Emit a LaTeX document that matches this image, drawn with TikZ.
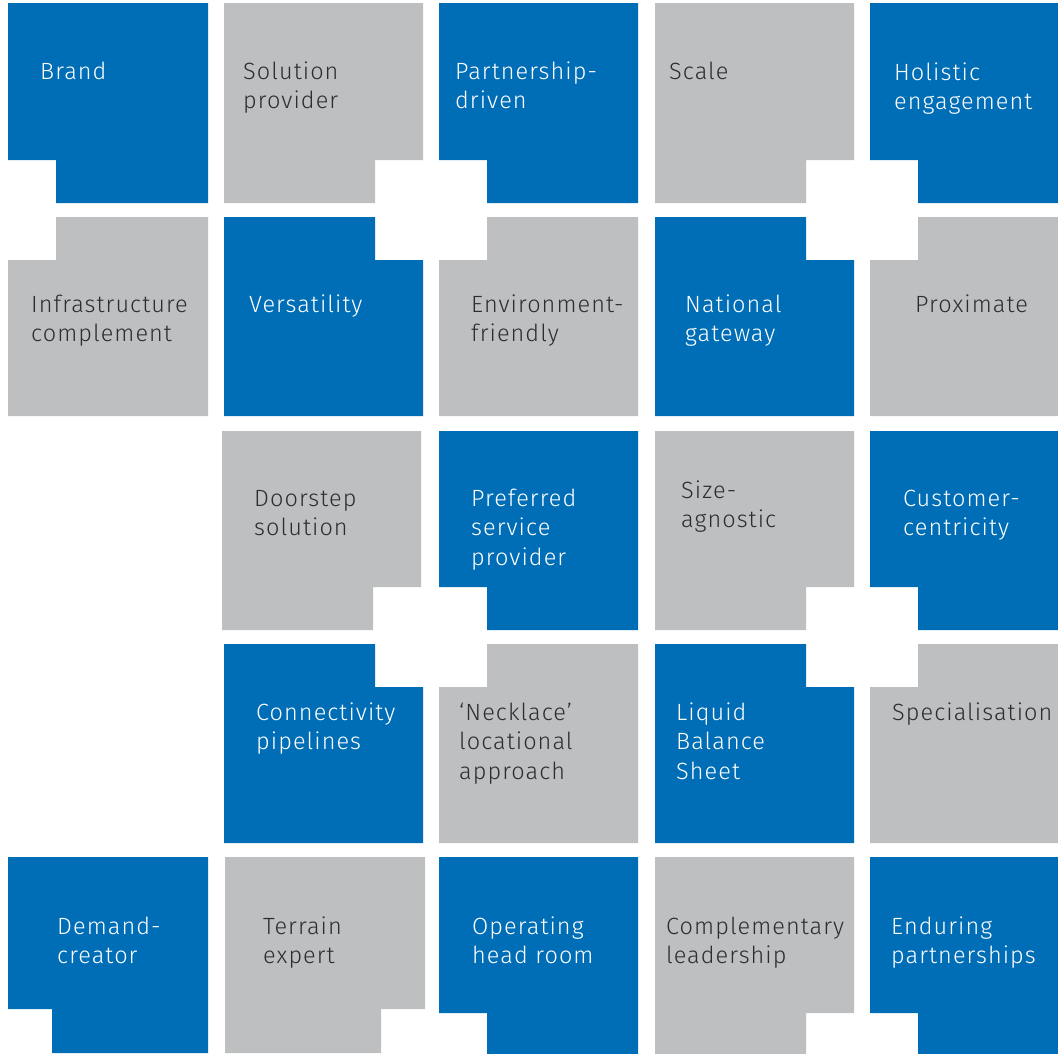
\documentclass[tikz,border=0pt]{standalone}
\usepackage{fontspec}
\setmainfont{Fira Sans}[UprightFont={* Light},LetterSpace=4.5]
\definecolor{tblue}{RGB}{0,110,182}
\definecolor{tgray}{RGB}{190,191,193}
\definecolor{tdark}{RGB}{45,45,48}
% tiles: x1 y1 x2 y2 fill ; notch \nw x \nh
\newcommand\nw{48}
\newcommand\nh{43}
\newcommand\tileBL[5]{\fill[#5] (#1,#2) -- (#3,#2) -- (#3,#4) -- ({#1+\nw},#4) -- ({#1+\nw},{#4-\nh}) -- (#1,{#4-\nh}) -- cycle;}
\newcommand\tileBR[5]{\fill[#5] (#1,#2) -- (#3,#2) -- (#3,{#4-\nh}) -- ({#3-\nw},{#4-\nh}) -- ({#3-\nw},#4) -- (#1,#4) -- cycle;}
\newcommand\tileTL[5]{\fill[#5] ({#1+\nw},#2) -- (#3,#2) -- (#3,#4) -- (#1,#4) -- (#1,{#2+\nh}) -- ({#1+\nw},{#2+\nh}) -- cycle;}
\newcommand\tileTR[5]{\fill[#5] (#1,#2) -- ({#3-\nw},#2) -- ({#3-\nw},{#2+\nh}) -- (#3,{#2+\nh}) -- (#3,#4) -- (#1,#4) -- cycle;}
\begin{document}
\begin{tikzpicture}[x=1pt,y=-1pt,
  lbl/.style={anchor=base west,inner sep=0pt,align=left,font=\fontsize{23.5}{29.5}\selectfont},
  onblue/.style={lbl,text=white},
  ongray/.style={lbl,text=tdark},
  two/.style={yshift=-29.5pt},
  three/.style={yshift=-59pt}]
\useasboundingbox (0,0) rectangle (1058,1053);
% row 1
\tileBL{8}{3}{208}{203}{tblue}
\tileBR{224}{3}{423}{203}{tgray}
\tileBL{439}{3}{638}{203}{tblue}
\tileBR{655}{3}{854}{203}{tgray}
\tileBL{870}{3}{1058}{203}{tblue}
% row 2
\tileTL{8}{217}{208}{416}{tgray}
\tileTR{224}{217}{423}{416}{tblue}
\tileTL{439}{217}{638}{416}{tgray}
\tileTR{655}{217}{854}{416}{tblue}
\tileTL{870}{217}{1058}{416}{tgray}
% row 3
\tileBR{222}{431}{421}{630}{tgray}
\tileBL{439}{431}{638}{630}{tblue}
\tileBR{655}{431}{854}{630}{tgray}
\tileBL{870}{431}{1058}{630}{tblue}
% row 4
\tileTR{224}{644}{423}{843}{tblue}
\tileTL{439}{644}{638}{843}{tgray}
\tileTR{655}{644}{854}{843}{tblue}
\tileTL{870}{644}{1058}{843}{tgray}
% row 5
\begin{scope}
\renewcommand\nw{44}\renewcommand\nh{44}
\tileBL{8}{857}{208}{1053}{tblue}
\tileBR{225}{857}{425}{1053}{tgray}
\end{scope}
\tileBL{439}{857}{638}{1056}{tblue}
\tileBR{655}{857}{854}{1056}{tgray}
\tileBL{870}{857}{1058}{1056}{tblue}
% labels (position = baseline of first line)
\node[onblue] (t11) at (40,79) {Brand};
\node[ongray,two] (t12) at (243,79) {Solution\\provider};
\node[onblue,two] (t13) at (455,79) {Partnership-\\driven};
\node[ongray] (t14) at (669,79) {Scale};
\node[onblue,two] (t15) at (894,80) {Holistic\\engagement};
\node[ongray,two] (t21) at (31,312) {Infrastructure\\complement};
\node[onblue] (t22) at (249,312) {Versatility};
\node[ongray,two] (t23) at (471,312) {Environment-\\friendly};
\node[onblue,two] (t24) at (685,312) {National\\gateway};
\node[ongray] (t25) at (915,312) {Proximate};
\node[ongray,two] (t32) at (254,506) {Doorstep\\solution};
\node[onblue,three] (t33) at (471,506) {Preferred\\service\\provider};
\node[ongray,two] (t34) at (681,498) {Size-\\agnostic};
\node[onblue,two] (t35) at (903,506) {Customer-\\centricity};
\node[onblue,two] (t42) at (256,720) {Connectivity\\pipelines};
\node[ongray,three] (t43) at (459,720) {‘Necklace’\\locational\\approach};
\node[onblue,three] (t44) at (676,720) {Liquid\\Balance\\Sheet};
\node[ongray] (t45) at (892,720) {Specialisation};
\node[onblue,two] (t51) at (57,934) {Demand-\\creator};
\node[ongray,two] (t52) at (263,934) {Terrain\\expert};
\node[onblue,two] (t53) at (472,934) {Operating\\head room};
\node[ongray,two] (t54) at (666,934) {Complementary\\leadership};
\node[onblue,two] (t55) at (891,934) {Enduring\\partnerships};
\end{tikzpicture}
\end{document}
